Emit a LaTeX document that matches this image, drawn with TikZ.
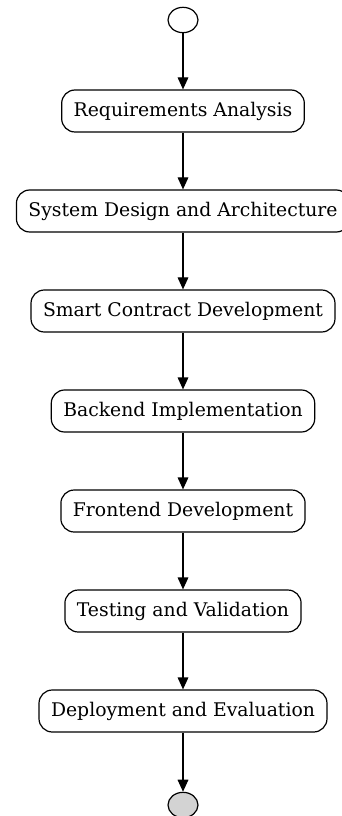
\documentclass[tikz,border=0pt]{standalone}
\usepackage{fontspec}
\setmainfont{DejaVu Serif}
\usetikzlibrary{arrows.meta, shapes.geometric}

\definecolor{endgray}{HTML}{D3D3D3}

\tikzset{
	stage/.style = {draw, rounded corners=10pt, line width=0.9pt, minimum height=31.5pt, inner xsep=9pt, font=\fontsize{14.1}{17}\selectfont},
	terminal/.style = {draw, ellipse, line width=0.9pt, minimum width=22.5pt, minimum height=19pt, inner sep=0pt},
	flow/.style = {-{Triangle[length=9pt, width=8pt]}, line width=0.9pt},
}

\begin{document}
\begin{tikzpicture}[x=0.75pt, y=-0.75pt]
	\def\cx{183};

	\useasboundingbox (0,0) rectangle (342,816);

	\node [terminal] (start) at (\cx,20) {};

	\node [stage] (req) at (\cx,111) {Requirements Analysis};
	\node [stage] (design) at (\cx,211) {System Design and Architecture};
	\node [stage] (contract) at (\cx,311) {Smart Contract Development};
	\node [stage] (backend) at (\cx,411) {Backend Implementation};
	\node [stage] (frontend) at (\cx,511) {Frontend Development};
	\node [stage] (testing) at (\cx,611) {Testing and Validation};
	\node [stage] (deploy) at (\cx,711) {Deployment and Evaluation};

	\node [terminal, fill=endgray] (finish) at (\cx,805) {};

	% one arrow between each pair of stages
	\foreach \a/\b in {start/req, req/design, design/contract, contract/backend, backend/frontend, frontend/testing, testing/deploy, deploy/finish}
		\draw [flow] (\a) -- (\b);
\end{tikzpicture}
\end{document}
